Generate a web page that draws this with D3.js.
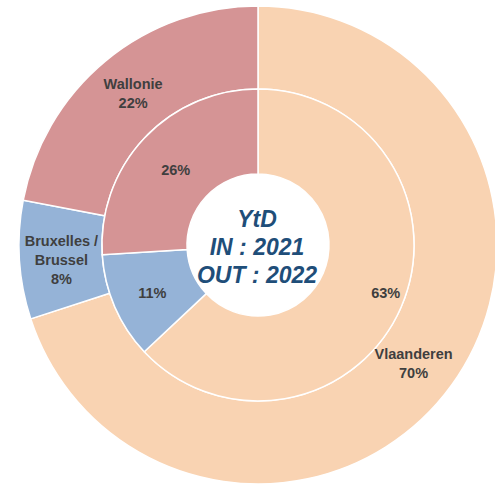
<!DOCTYPE html>
<html>
<head>
<meta charset="utf-8">
<title>YtD donut</title>
<style>
  body { margin: 0; background: #fff; }
  .lbl { font-family: "Liberation Sans", Arial, sans-serif; font-weight: bold; font-size: 14.5px; fill: #3f3f3f; }
  .center { font-family: "Liberation Sans", Arial, sans-serif; font-weight: bold; font-style: italic; font-size: 23px; fill: #1f4e79; }
</style>
</head>
<body>
<div id="chart"></div>
<script src="https://cdn.jsdelivr.net/npm/d3@7"></script>
<script>
// regions, in drawing order (clockwise from 12 o'clock)
const regions = ["Vlaanderen", "Bruxelles / Brussel", "Wallonie"];
const outer2022 = [70, 8, 22];   // OUT : 2022
const inner2021 = [63, 11, 26];  // IN : 2021
const centerLines = ["YtD", "IN : 2021", "OUT : 2022"];

const W = 495, H = 484;
const cx = 258, cy = 245;
const rHole = 71, rMid = 156, rOuter = 239;

const colors = d3.scaleOrdinal()
  .domain(regions)
  .range(["#f9d3b2", "#95b3d7", "#d59495"]);

const svg = d3.select("#chart").append("svg")
  .attr("width", W)
  .attr("height", H);

const g = svg.append("g").attr("transform", `translate(${cx},${cy})`);

const pie = d3.pie().sort(null).value(d => d.v);

const outerData = pie(regions.map((r, i) => ({ name: r, v: outer2022[i] })));
const innerData = pie(regions.map((r, i) => ({ name: r, v: inner2021[i] })));

const outerArc = d3.arc().innerRadius(rMid).outerRadius(rOuter);
const innerArc = d3.arc().innerRadius(rHole).outerRadius(rMid);

// outer ring
g.append("g").selectAll("path")
  .data(outerData)
  .join("path")
  .attr("d", outerArc)
  .attr("fill", d => colors(d.data.name))
  .attr("stroke", "#fff")
  .attr("stroke-width", 1.5);

// inner ring
g.append("g").selectAll("path")
  .data(innerData)
  .join("path")
  .attr("d", innerArc)
  .attr("fill", d => colors(d.data.name))
  .attr("stroke", "#fff")
  .attr("stroke-width", 1.5);

// outer labels: name lines + percent
const outerLabelArc = d3.arc().innerRadius(196).outerRadius(196);
const nameLines = {
  "Vlaanderen": ["Vlaanderen"],
  "Bruxelles / Brussel": ["Bruxelles /", "Brussel"],
  "Wallonie": ["Wallonie"]
};
const nudgeOuter = { "Vlaanderen": [-3, 3], "Bruxelles / Brussel": [-1, 3], "Wallonie": [0, 0] };

outerData.forEach(d => {
  const [x, y] = outerLabelArc.centroid(d);
  const lines = nameLines[d.data.name].concat([d.data.v + "%"]);
  const lh = 19;
  const n = nudgeOuter[d.data.name];
  const t = g.append("text")
    .attr("class", "lbl")
    .attr("text-anchor", "middle")
    .attr("x", x + n[0])
    .attr("y", y + n[1] - (lines.length - 1) * lh / 2 + 5);
  lines.forEach((s, i) => {
    t.append("tspan")
      .attr("x", x + n[0])
      .attr("dy", i === 0 ? 0 : lh)
      .text(s);
  });
});

// inner labels
const innerLabelArc = d3.arc().innerRadius(113).outerRadius(113);
const nudgeInner = { "Vlaanderen": [24, 3], "Bruxelles / Brussel": [-2, 3], "Wallonie": [0, 2] };
innerData.forEach(d => {
  const [x, y] = innerLabelArc.centroid(d);
  const n = nudgeInner[d.data.name];
  g.append("text")
    .attr("class", "lbl")
    .attr("text-anchor", "middle")
    .attr("x", x + n[0])
    .attr("y", y + n[1] + 5)
    .text(d.data.v + "%");
});

// center text
const ct = g.append("text")
  .attr("class", "center")
  .attr("text-anchor", "middle");
centerLines.forEach((s, i) => {
  ct.append("tspan")
    .attr("x", -1)
    .attr("y", -18 + i * 28)
    .text(s);
});
</script>
</body>
</html>
